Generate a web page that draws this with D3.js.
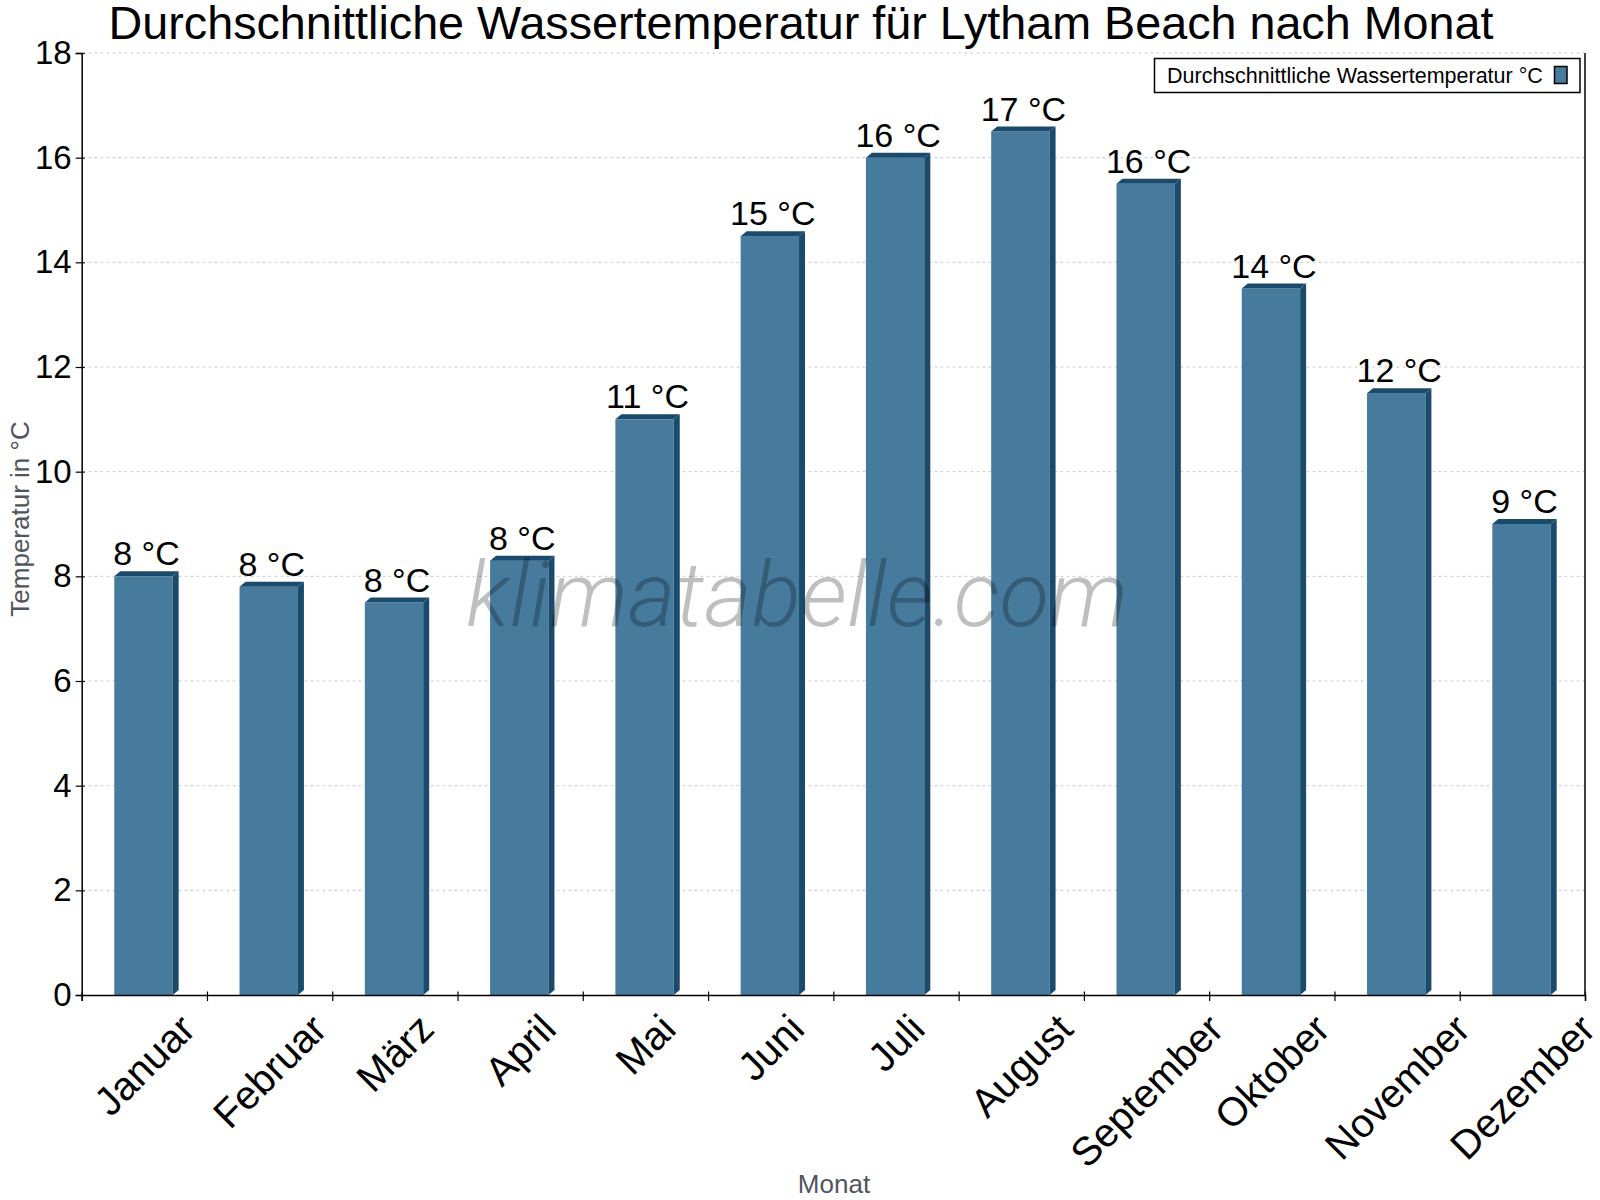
<!doctype html>
<html lang="de">
<head>
  <meta charset="utf-8">
  <title>Wassertemperatur Lytham Beach</title>
</head>
<body style="overflow: hidden; margin: 0; background: #fff;">
  <script src="https://cdnjs.cloudflare.com/ajax/libs/d3/7.8.5/d3.min.js"></script>
  <script type="text/javascript">

    // data
    let months = ["Januar", "Februar", "März", "April", "Mai", "Juni",
                  "Juli", "August", "September", "Oktober", "November", "Dezember"];
    let waterTemp = [8.0, 7.8, 7.5, 8.3, 11.0, 14.5, 16.0, 16.5, 15.5, 13.5, 11.5, 9.0];
    let valueLabels = ["8 °C", "8 °C", "8 °C", "8 °C", "11 °C", "15 °C",
                       "16 °C", "17 °C", "16 °C", "14 °C", "12 °C", "9 °C"];
    let yTicks = [0, 2, 4, 6, 8, 10, 12, 14, 16, 18];

    let config = {
      width: 1600,
      height: 1200,
      left: 81.7,
      right: 1585,
      top: 53,
      bottom: 995,
      font: "'Liberation Sans', Arial, sans-serif",
      front: "#477b9e",
      dark: "#1a4a6c",
      depthX: 6,
      depthY: 5
    };

    let svg = d3.select("body").append("svg")
      .attr("width", config.width)
      .attr("height", config.height)
      .style("font-family", config.font);

    svg.append("rect").attr("width", config.width).attr("height", config.height).attr("fill", "#fff");

    let xScale = d3.scaleBand()
      .domain(months)
      .range([config.left, config.right]);
    let yScale = d3.scaleLinear()
      .domain([0, 18])
      .range([config.bottom, config.top]);
    // boundaries between months for the x-axis ticks
    let edgeScale = d3.scaleLinear()
      .domain([0, months.length])
      .range([config.left, config.right]);

    // grid
    svg.append("g")
      .selectAll("line")
      .data(yTicks.filter(d => d > 0))
      .join("line")
      .attr("x1", config.left + 1)
      .attr("x2", config.right - 1)
      .attr("y1", d => yScale(d))
      .attr("y2", d => yScale(d))
      .attr("stroke", "#c4c4c4")
      .attr("stroke-width", 1)
      .attr("stroke-dasharray", "2.5,3.5");

    // bars
    let bw = xScale.bandwidth();
    let frontOff = bw * 0.26, frontW = bw * 0.466;
    let bars = svg.append("g");
    months.forEach((m, i) => {
      let x0 = xScale(m) + frontOff, x1 = x0 + frontW;
      let yv = yScale(waterTemp[i]), y0 = yScale(0);
      let dx = config.depthX, dy = config.depthY;
      bars.append("rect")
        .attr("x", x0).attr("y", yv)
        .attr("width", frontW).attr("height", y0 - yv)
        .attr("fill", config.front);
      bars.append("polygon")
        .attr("points", [[x0, yv], [x0 + dx, yv - dy], [x1 + dx, yv - dy], [x1, yv]].join(" "))
        .attr("fill", config.dark);
      bars.append("polygon")
        .attr("points", [[x1, yv], [x1 + dx, yv - dy], [x1 + dx, y0 - dy], [x1, y0]].join(" "))
        .attr("fill", config.dark);
      svg.append("text")
        .attr("x", x0 + frontW / 2 + 3)
        .attr("y", yv - 11)
        .attr("text-anchor", "middle")
        .attr("font-size", 34)
        .attr("fill", "#000")
        .text(valueLabels[i]);
    });

    // watermark
    svg.append("text")
      .attr("x", 797)
      .attr("y", 626)
      .attr("text-anchor", "middle")
      .attr("font-family", "Roboto, 'Open Sans', sans-serif")
      .attr("font-style", "italic")
      .attr("font-weight", 300)
      .attr("font-size", 91.5)
      .attr("fill", "rgba(0,0,0,0.25)")
      .text("klimatabelle.com");

    // y axis
    let yAxis = svg.append("g")
      .attr("transform", "translate(" + config.left + ",0)")
      .call(d3.axisLeft(yScale).tickValues(yTicks).tickSize(6).tickPadding(4));
    yAxis.select(".domain").attr("stroke", "#000").attr("stroke-width", 1.5);
    yAxis.selectAll(".tick line").attr("x1", 3).attr("stroke", "#000").attr("stroke-width", 1.2);
    yAxis.selectAll(".tick text")
      .attr("font-size", 33)
      .attr("font-family", config.font)
      .attr("fill", "#000");

    // x axis
    let xAxis = svg.append("g")
      .attr("transform", "translate(0," + config.bottom + ")")
      .call(d3.axisBottom(edgeScale).tickValues(d3.range(months.length + 1)).tickSize(6).tickFormat(""));
    xAxis.select(".domain").attr("stroke", "#000").attr("stroke-width", 1.5);
    xAxis.selectAll(".tick line").attr("y1", -3.5).attr("stroke", "#000").attr("stroke-width", 1.2);

    // right frame line
    svg.append("line")
      .attr("x1", config.right).attr("x2", config.right)
      .attr("y1", config.top).attr("y2", config.bottom)
      .attr("stroke", "#000").attr("stroke-width", 1.5);

    // month labels, rotated, bbox centred under the band
    months.forEach(m => {
      let g = svg.append("g");
      g.append("text")
        .attr("transform", "rotate(-45)")
        .attr("font-size", 40)
        .attr("fill", "#000")
        .text(m);
      let bb = g.node().getBoundingClientRect();
      let cx = xScale(m) + bw / 2;
      g.attr("transform", "translate(" + (cx - (bb.left + bb.width / 2)) + "," + (1006 - bb.top) + ")");
    });

    // axis titles
    svg.append("text")
      .attr("transform", "translate(29,519) rotate(-90)")
      .attr("text-anchor", "middle")
      .attr("font-size", 26)
      .attr("fill", "#50555b")
      .text("Temperatur in °C");
    svg.append("text")
      .attr("x", 834)
      .attr("y", 1193)
      .attr("text-anchor", "middle")
      .attr("font-size", 26)
      .attr("fill", "#50555b")
      .text("Monat");

    // title
    svg.append("text")
      .attr("x", 801)
      .attr("y", 38.5)
      .attr("text-anchor", "middle")
      .attr("font-size", 46.7)
      .attr("fill", "#000")
      .text("Durchschnittliche Wassertemperatur für Lytham Beach nach Monat");

    // legend
    let legend = svg.append("g");
    legend.append("rect")
      .attr("x", 1154.5).attr("y", 58.5)
      .attr("width", 425.5).attr("height", 34)
      .attr("fill", "#fff").attr("stroke", "#000").attr("stroke-width", 1.5);
    legend.append("text")
      .attr("x", 1167).attr("y", 82.5)
      .attr("font-size", 21.5)
      .attr("fill", "#000")
      .text("Durchschnittliche Wassertemperatur °C");
    legend.append("rect")
      .attr("x", 1554.5).attr("y", 66.5)
      .attr("width", 12.5).attr("height", 17)
      .attr("fill", config.front).attr("stroke", "#000").attr("stroke-width", 1.5);
  </script>
</body>
</html>
